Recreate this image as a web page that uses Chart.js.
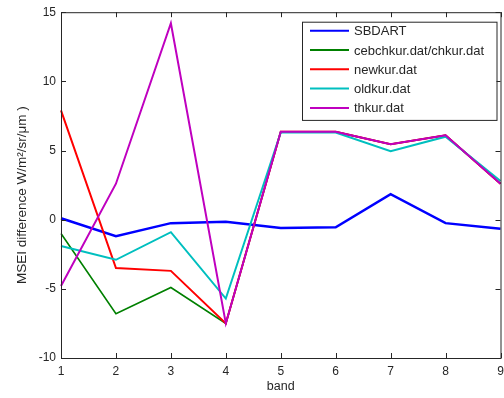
<!DOCTYPE html>
<html>
<head>
<meta charset="utf-8">
<script src="https://cdn.jsdelivr.net/npm/chart.js@4.4.1/dist/chart.umd.min.js"></script>
<style>
  html, body { margin: 0; padding: 0; background: #fff; }
  #wrap { width: 504px; height: 398px; position: relative; }
</style>
</head>
<body>
<div id="wrap"><canvas id="c"></canvas></div>
<script>

// data
const bands   = ['1', '2', '3', '4', '5', '6', '7', '8', '9']
const sbdart  = [0.1, -1.2, -0.25, -0.15, -0.6, -0.55, 1.85, -0.25, -0.65]
const cebchk  = [-1.0, -6.8, -4.9, -7.5, 6.35, 6.35, 5.45, 6.1, 2.6]
const newkur  = [7.9, -3.5, -3.7, -7.5, 6.35, 6.35, 5.45, 6.1, 2.6]
const oldkur  = [-1.9, -2.9, -0.9, -5.7, 6.3, 6.3, 4.95, 6.0, 2.8]
const thkur   = [-4.8, 2.6, 14.2, -7.5, 6.35, 6.35, 5.45, 6.1, 2.6]

const yTicks  = [-10, -5, 0, 5, 10, 15]
const yTitle  = 'MSEI difference W/m²/sr/μm )'

const FONT = "'Liberation Sans', Arial, sans-serif"
const INK  = '#262626'


// MATLAB-ish box: full frame + inward ticks + boxed legend + y title
const matlabBox = {
      id: 'matlabBox',
      afterDraw(chart){
            const ctx = chart.ctx
            const a   = chart.chartArea
            const xs  = chart.scales.x
            const ys  = chart.scales.y

            ctx.save()
            ctx.strokeStyle = INK
            ctx.lineWidth = 1
            ctx.strokeRect(a.left + 0.5, a.top + 0.5, a.right - a.left, a.bottom - a.top)

            ctx.beginPath()
            bands.forEach((b, i) => {
                  const px = Math.round(xs.getPixelForValue(i)) + 0.5
                  ctx.moveTo(px, a.bottom); ctx.lineTo(px, a.bottom - 5)
                  ctx.moveTo(px, a.top);    ctx.lineTo(px, a.top + 5)
            })
            yTicks.forEach(v => {
                  const py = Math.round(ys.getPixelForValue(v)) + 0.5
                  ctx.moveTo(a.left, py);  ctx.lineTo(a.left + 5, py)
                  ctx.moveTo(a.right, py); ctx.lineTo(a.right - 5, py)
            })
            ctx.stroke()

            // y title (rotated)
            ctx.save()
            ctx.translate(22, (a.top + a.bottom) / 2 + 10)
            ctx.rotate(-Math.PI / 2)
            ctx.font = '13.5px ' + FONT
            ctx.fillStyle = INK
            ctx.textAlign = 'center'
            ctx.textBaseline = 'middle'
            ctx.fillText(yTitle, 0, 0)
            ctx.restore()

            // legend
            const ds   = chart.data.datasets
            const rowH = 19.3
            const boxR = a.right - 4
            const boxL = 302
            const boxT = a.top + 9.5
            const boxB = boxT + 9 + rowH * (ds.length - 1) + 12
            ctx.fillStyle = '#fff'
            ctx.fillRect(boxL, boxT, boxR - boxL, boxB - boxT)
            ctx.strokeStyle = INK
            ctx.lineWidth = 1
            ctx.strokeRect(boxL + 0.5, boxT + 0.5, boxR - boxL, boxB - boxT)

            ctx.font = '13px ' + FONT
            ctx.textBaseline = 'middle'
            ctx.textAlign = 'left'
            ds.forEach((d, i) => {
                  const y = boxT + 9 + rowH * i
                  ctx.strokeStyle = d.borderColor
                  ctx.lineWidth = 2
                  ctx.beginPath()
                  ctx.moveTo(boxL + 8, y); ctx.lineTo(boxL + 47, y)
                  ctx.stroke()
                  ctx.fillStyle = INK
                  ctx.fillText(d.label, boxL + 52, y + 1)
            })
            ctx.restore()
      }
}


// later series drawn on top, like plot() with hold on
function line(label, data, color, width, order){
      return {
            label: label,
            data: data,
            borderColor: color,
            backgroundColor: color,
            borderWidth: width,
            pointRadius: 0,
            tension: 0,
            fill: false,
            order: order,
      }
}


const setup = {
      type: 'line',
      data: {
            labels: bands,
            datasets: [
                  line('SBDART', sbdart, '#0000ff', 2.5, 5),
                  line('cebchkur.dat/chkur.dat', cebchk, '#008000', 1.6, 4),
                  line('newkur.dat', newkur, '#ff0000', 2, 3),
                  line('oldkur.dat', oldkur, '#00bfbf', 2, 2),
                  line('thkur.dat', thkur, '#bf00bf', 2, 1),
            ]
      },
      options: {
            responsive: true,
            maintainAspectRatio: false,
            animation: false,
            layout: { padding: { left: 0, top: 12, right: 0, bottom: 0 } },
            plugins: {
                  legend: { display: false },
                  tooltip: { enabled: false },
            },
            scales: {
                  x: {
                        type: 'category',
                        offset: false,
                        grid: { display: false, drawTicks: false },
                        border: { display: false },
                        ticks: { color: INK, font: { family: FONT, size: 12 }, padding: 6, maxRotation: 0 },
                        title: { display: true, text: 'band', color: INK, font: { family: FONT, size: 12.5 }, padding: { top: 2, bottom: 4 } },
                        afterFit: (s) => { s.height = 40; s.paddingRight = 3.5 },
                  },
                  y: {
                        min: -10,
                        max: 15,
                        grid: { display: false, drawTicks: false },
                        border: { display: false },
                        ticks: { stepSize: 5, color: INK, font: { family: FONT, size: 12 }, padding: 5 },
                        afterFit: (s) => { s.width = 61 },
                  },
            },
      },
      plugins: [matlabBox],
}

new Chart(document.getElementById('c'), setup)

</script>
</body>
</html>
